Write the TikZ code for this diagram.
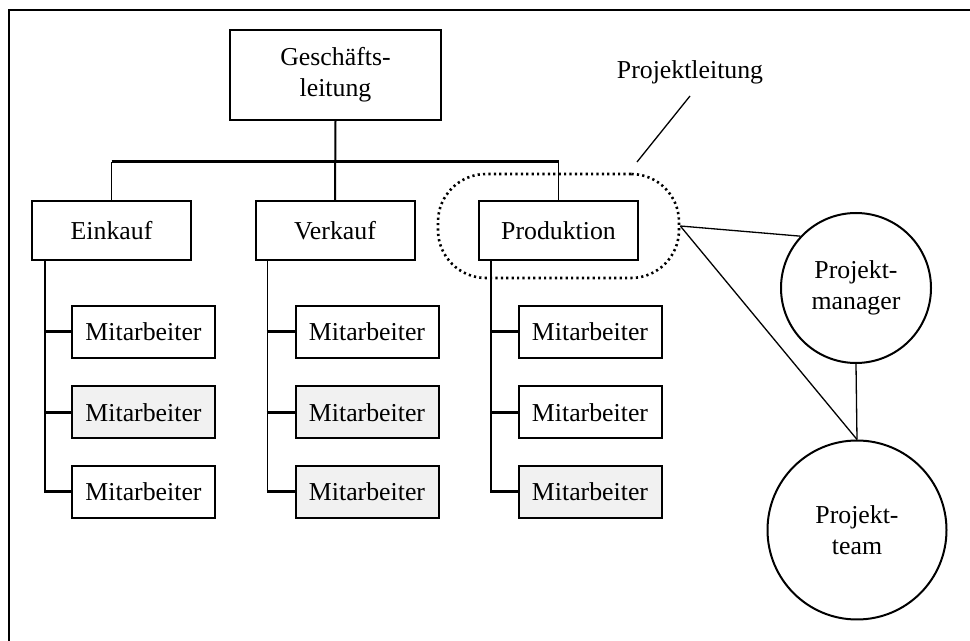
\documentclass[tikz,border=0pt]{standalone}
\usepackage{fontspec}
\setmainfont{Liberation Serif}
\usetikzlibrary{calc}
\definecolor{shade}{HTML}{F1F1F1}
\tikzset{
  txt/.style={font=\fontsize{12.9}{15.5}\selectfont},
  box/.style={draw, line width=1pt, inner sep=0pt, align=center, txt},
  dept/.style={box, minimum width=79.5pt, minimum height=29.5pt},
  staff/.style={box, minimum width=71.5pt, minimum height=26pt},
  staffg/.style={staff, fill=shade},
  circ/.style={draw, circle, line width=1pt, inner sep=0pt, align=center, txt},
  bus/.style={line width=1.5pt},
  vline/.style={line width=0.9pt},
  stub/.style={line width=1.5pt},
  thin/.style={line width=0.65pt},
  dots/.style={line width=1.3pt, dash pattern=on 1.1pt off 1.6pt},
  frame/.style={line width=1.2pt}
}
\begin{document}
\begin{tikzpicture}[x=0.5pt, y=-0.5pt]
\useasboundingbox (0,0) rectangle (970,641);
% frame (only top and left visible)
\coordinate (fTL) at (9,10);
\coordinate (fTR) at (972,10);
\coordinate (fBL) at (9,643);
\draw[frame] (fBL) -- (fTL) -- (fTR);

% top
\node[box, minimum width=105.5pt, minimum height=45pt] (GL) at (335.5,75) {Geschäfts-\\leitung};
% departments
\node[dept] (Ein) at (111.5,230.5) {Einkauf};
\node[dept] (Ver) at (335,230.5) {Verkauf};
\node[dept] (Pro) at (558.5,230.5) {Produktion};

% bus
\coordinate (busy) at (0,162);
\draw[vline] (Ein.north) -- (Ein.north |- busy);
\draw[vline] (Pro.north) -- (Pro.north |- busy);
\draw[bus] (Ein.north |- busy) -- (Pro.north |- busy);
\draw[line width=1pt] (GL.south) -- (Ver.north);

% staff
\node[staff]  (E1) at (143.5,332) {Mitarbeiter};
\node[staffg] (E2) at (143.5,412.5) {Mitarbeiter};
\node[staff]  (E3) at (143.5,492) {Mitarbeiter};
\node[staff]  (V1) at (367,332) {Mitarbeiter};
\node[staffg] (V2) at (367,412.5) {Mitarbeiter};
\node[staffg] (V3) at (367,492) {Mitarbeiter};
\node[staff]  (P1) at (590,332) {Mitarbeiter};
\node[staff]  (P2) at (590,412.5) {Mitarbeiter};
\node[staffg] (P3) at (590,492) {Mitarbeiter};

\coordinate (et) at ([xshift=7pt]Ein.south west);
\coordinate (vt) at ([xshift=6.5pt]Ver.south west);
\coordinate (pt) at ([xshift=6.5pt]Pro.south west);
\draw[vline] (et) -- (et |- E3.west);
\draw[vline] (vt) -- (vt |- V3.west);
\draw[vline] (pt) -- (pt |- P3.west);
\foreach \c/\r in {et/E, vt/V, pt/P}{
  \foreach \i in {1,2,3}{
    \draw[stub] ([xshift=-0.4pt]\c |- \r\i.west) -- (\r\i.west);
  }
}

% project leadership
\node[draw, dots, rounded corners=24pt, minimum width=120.5pt, minimum height=52pt] (PL) at (558.5,226) {};
\node[txt, inner sep=0pt] (PLT) at (690,72) {Projektleitung};
\coordinate (pl1) at (690,96);
\coordinate (pl2) at (637,162);
\draw[thin] (pl1) -- (pl2);

\node[circ, minimum size=75pt] (PM) at (856,288) {Projekt-\\manager};
\node[circ, minimum size=89.5pt] (PT) at (857,530) {Projekt-\\team};
\draw[thin] (PL.east) -- (PM.137);
\draw[thin] (PL.east) -- (PT.north);
\draw[thin] (PM.south) -- (PT.north);
\end{tikzpicture}
\end{document}
